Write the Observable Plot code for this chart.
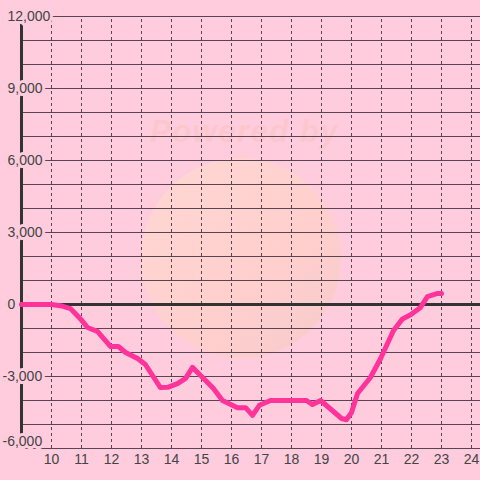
<!DOCTYPE html>
<html>
<head>
<meta charset="utf-8">
<script src="https://cdn.jsdelivr.net/npm/d3@7"></script>
<script src="https://cdn.jsdelivr.net/npm/@observablehq/plot@0.6"></script>
<style>
  html, body { margin: 0; padding: 0; background: #ffccdd; }
  #wrap { position: relative; width: 480px; height: 480px; overflow: hidden; background: #ffccdd; }
  #wm-circle { position: absolute; left: 141px; top: 158px; width: 200px; height: 200px; border-radius: 50%;
    background: linear-gradient(135deg, rgba(255,225,205,0.55) 0%, rgba(255,210,195,0.6) 55%, rgba(240,200,190,0.6) 100%); }
  #wm-text { position: absolute; left: 150px; top: 114px; font: italic bold 31px "Liberation Sans", Arial, sans-serif;
    letter-spacing: 1.5px; color: rgba(245,190,175,0.35); white-space: nowrap; }
  #chart { position: absolute; left: 0; top: 0; }
</style>
</head>
<body>
<div id="wrap">
  <div id="wm-circle"></div>
  <div id="wm-text">Powered by</div>
  <div id="chart"></div>
</div>
<script>
const hours = [9.0, 10.0, 10.3, 10.63, 11.0, 11.2, 11.53, 11.97, 12.23, 12.47, 12.87, 13.13, 13.63, 13.87, 14.2, 14.47, 14.7, 14.97, 15.4, 15.7, 16.2, 16.47, 16.7, 16.93, 17.3, 18.5, 18.7, 18.97, 19.67, 19.83, 20.0, 20.2, 20.63, 20.97, 21.4, 21.7, 21.97, 22.3, 22.53, 22.87, 23.0];
const values = [0, 0, -50, -170, -650, -960, -1120, -1750, -1750, -2000, -2250, -2500, -3460, -3450, -3300, -3080, -2620, -2960, -3500, -4000, -4300, -4300, -4620, -4200, -4000, -4000, -4170, -4000, -4750, -4800, -4500, -3710, -3040, -2250, -1080, -600, -430, -120, 330, 460, 460];
const xTicks = [10, 11, 12, 13, 14, 15, 16, 17, 18, 19, 20, 21, 22, 23, 24];
const yGrid = d3.range(-6000, 12001, 1000);
const yLabelTicks = [12000, 9000, 6000, 3000, 0, -3000, -6000];

const data = hours.map((h, i) => ({h, v: values[i]}));
const fmt = d => d3.format(",")(d).replace("−", "-");
const bg = "#ffccdd";
const grid = "#5a4352";
const labelStyle = {x: () => 9, y: d => d, text: fmt, textAnchor: "start", fill: "#444", stroke: bg, strokeWidth: 6, fontSize: 14};

const chart = Plot.plot({
  width: 480, height: 480,
  marginLeft: 21, marginRight: 0, marginTop: 16, marginBottom: 32,
  style: {background: "transparent", fontFamily: "'Liberation Sans', Arial, sans-serif", fontSize: "14px", color: "#444"},
  x: {domain: [9, 24.3], axis: null, label: null},
  y: {domain: [-6000, 12000], axis: null, label: null},
  marks: [
    Plot.ruleY(yGrid, {stroke: grid, strokeWidth: 1.2}),
    Plot.ruleX(xTicks, {y1: -6000, y2: 12000, stroke: grid, strokeWidth: 1, strokeDasharray: "3,3"}),
    Plot.ruleY([0], {stroke: "#333", strokeWidth: 3}),
    Plot.ruleX([9], {y1: -6000, y2: 12000, stroke: "#333", strokeWidth: 3}),
    Plot.line(data, {x: "h", y: "v", stroke: "#ff3399", strokeWidth: 5, strokeLinejoin: "round", strokeLinecap: "round"}),
    Plot.text(yLabelTicks.filter(d => d >= 0), {...labelStyle, dx: -14}),
    Plot.text(yLabelTicks.filter(d => d < 0 && d > -6000), {...labelStyle, dx: -19}),
    Plot.text(yLabelTicks.filter(d => d <= -6000), {...labelStyle, dx: -19, dy: -7}),
    Plot.axisX(xTicks, {tickSize: 0, tickPadding: 6, fontSize: 14, fill: "#444", label: null, tickFormat: d => String(d)})
  ]
});
document.getElementById("chart").appendChild(chart);
</script>
</body>
</html>
